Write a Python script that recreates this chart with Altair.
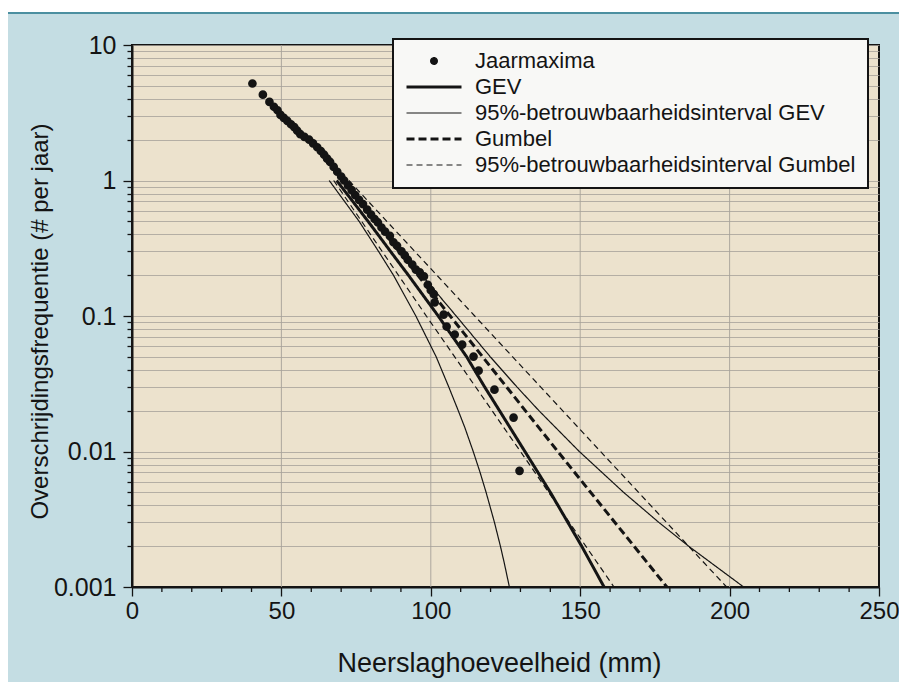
import altair as alt
import pandas as pd

# ---------------- data ----------------
series_order = [
    "Jaarmaxima",
    "GEV",
    "95%-betrouwbaarheidsinterval GEV",
    "Gumbel",
    "95%-betrouwbaarheidsinterval Gumbel",
]

obs_x = [40.3, 43.8, 46.0, 47.5, 48.7, 49.7, 50.8, 52.0, 53.2, 54.3, 55.3, 56.3, 57.7, 59.3,
         60.6, 62.0, 63.2, 64.3, 65.3, 66.3, 67.5, 68.7, 70.0, 71.0, 72.3, 73.5, 74.7, 76.0,
         77.3, 78.7, 80.0, 81.2, 82.3, 83.5, 84.7, 86.3, 87.5, 88.7, 90.2, 91.3, 92.3, 93.8,
         95.0, 96.3, 97.7, 99.0, 100.0, 101.0, 101.3, 104.3, 105.3, 108.0, 110.5, 114.3,
         116.0, 121.3, 127.7, 129.7]
obs_y = [5.2, 4.3, 3.8, 3.5, 3.3, 3.05, 2.9, 2.75, 2.6, 2.48, 2.33, 2.2, 2.1, 2.0,
         1.88, 1.76, 1.65, 1.55, 1.45, 1.37, 1.26, 1.16, 1.07, 1.0, 0.92, 0.85, 0.78, 0.72,
         0.67, 0.61, 0.56, 0.52, 0.49, 0.45, 0.42, 0.39, 0.35, 0.33, 0.30, 0.28, 0.26, 0.24,
         0.22, 0.21, 0.196, 0.17, 0.155, 0.145, 0.126, 0.1025, 0.0836, 0.073, 0.0615, 0.0502,
         0.0395, 0.0286, 0.0178, 0.0072]

gev_y = [1.0, 0.5, 0.3, 0.2, 0.1, 0.05, 0.03, 0.02, 0.01, 0.005, 0.002, 0.001]
gev_x = [68.5, 79, 86.5, 92.5, 102.5, 112, 118, 123, 131.5, 140, 150.5, 158]

gev_lo_y = [1.0, 0.5, 0.3, 0.2, 0.1, 0.05, 0.03, 0.02, 0.015, 0.01, 0.007, 0.005, 0.003,
            0.002, 0.0015, 0.001]
gev_lo_x = [66, 76, 82.5, 87.5, 95, 101.8, 106, 109.2, 111.4, 114.2, 116.5, 118.5, 121.3,
            123.3, 124.6, 126.3]

gev_hi_y = [1.0, 0.5, 0.3, 0.2, 0.1, 0.05, 0.03, 0.02, 0.01, 0.005, 0.003, 0.002, 0.001]
gev_hi_x = [71.5, 82.5, 90.5, 97, 108.5, 119.9, 128.8, 136.2, 149.7, 164.5, 176.3, 186.3, 204.7]

gum_y = [1.0, 0.1, 0.01, 0.001]
gum_x = [70.5, 106.5, 142.5, 179]
gum_lo_x = [67.5, 98.5, 130, 161.3]
gum_hi_x = [72.6, 114.7, 156.8, 199]

x_major = [0, 50, 100, 150, 200, 250]
x_minor = [v for v in range(0, 251, 10) if v % 50 != 0]
x_grid = [50, 100, 150, 200]
y_ticks = [round(k * 10.0 ** e, 6) for e in range(-3, 1) for k in range(1, 10)] + [10]

# ---------------- tables ----------------
def line_rows(name, part, xs, ys):
    return [{"series": name, "part": part, "i": i, "x": x, "y": y}
            for i, (x, y) in enumerate(zip(xs, ys))]

rows = []
rows += line_rows("GEV", "c", gev_x, gev_y)
rows += line_rows("95%-betrouwbaarheidsinterval GEV", "lo", gev_lo_x, gev_lo_y)
rows += line_rows("95%-betrouwbaarheidsinterval GEV", "hi", gev_hi_x, gev_hi_y)
rows += line_rows("Gumbel", "c", gum_x, gum_y)
rows += line_rows("95%-betrouwbaarheidsinterval Gumbel", "lo", gum_lo_x, gum_y)
rows += line_rows("95%-betrouwbaarheidsinterval Gumbel", "hi", gum_hi_x, gum_y)
lines_df = pd.DataFrame(rows)

obs_df = pd.DataFrame({"x": obs_x, "y": obs_y, "series": ["Jaarmaxima"] * len(obs_x)})
grid_df = pd.DataFrame({"x": x_grid})
minor_df = pd.DataFrame({"x": x_minor})

INK = "#141414"
PLOT_W = 747
PLOT_H = 542
PAD_L, PAD_T, PAD_R, PAD_B = 124, 37, 20, 95

x_axis = alt.Axis(
    title="Neerslaghoeveelheid (mm)",
    values=x_major,
    grid=False,
    labelOverlap=False,
    labelFlush=False,
    tickSize=9,
    labelPadding=3,
    labelFontSize=24,
    titleFontSize=27,
    titleFontWeight="normal",
    titleX=367,
    titleY=76,
    titleBaseline="middle",
)
y_axis = alt.Axis(
    title="Overschrijdingsfrequentie (# per jaar)",
    values=y_ticks,
    labelOverlap=False,
    labelExpr="indexof([0.001, 0.01, 0.1, 1, 10], datum.value) >= 0 ? '' + datum.value : ''",
    tickSize={"condition": {"test": "indexof([0.001, 0.01, 0.1, 1, 10], datum.value) >= 0", "value": 9},
              "value": 5},
    labelPadding=7,
    labelFontSize=25,
    titleFontSize=24,
    titleFontWeight="normal",
    titleX=-92,
    titleY=276,
    titleBaseline="middle",
)

x_scale = alt.Scale(domain=[0, 250], nice=False, zero=False)
y_scale = alt.Scale(type="log", domain=[0.001, 10], nice=False)

leg = alt.Legend(title=None)

grid = alt.Chart(grid_df).mark_rule(color="#a6a199", strokeWidth=0.9).encode(
    x=alt.X("x:Q", scale=x_scale, axis=x_axis),
)
minor = alt.Chart(minor_df).mark_rule(color=INK, strokeWidth=1.3).encode(
    x=alt.X("x:Q", scale=x_scale, axis=x_axis),
    y=alt.value(PLOT_H), y2=alt.value(PLOT_H + 5),
)

lines = alt.Chart(lines_df).mark_line(color=INK).encode(
    x=alt.X("x:Q", scale=x_scale, axis=x_axis),
    y=alt.Y("y:Q", scale=y_scale, axis=y_axis),
    detail="part:N",
    order="i:Q",
    strokeDash=alt.StrokeDash("series:N", legend=leg, scale=alt.Scale(
        type="ordinal", domain=series_order, range=[[1, 0], [1, 0], [1, 0], [8, 4], [6, 4]])),
    strokeWidth=alt.StrokeWidth("series:N", legend=leg, scale=alt.Scale(
        type="ordinal", domain=series_order, range=[1.2, 3, 1.2, 3, 1.2])),
)

points = alt.Chart(obs_df).mark_point(filled=True, fill=INK, stroke=INK, opacity=1).encode(
    x=alt.X("x:Q"),
    y=alt.Y("y:Q"),
    shape=alt.Shape("series:N", legend=leg, scale=alt.Scale(
        domain=series_order, range=["circle", "stroke", "stroke", "stroke", "stroke"])),
    size=alt.Size("series:N", legend=leg, scale=alt.Scale(
        type="ordinal", domain=series_order, range=[45, 3025, 3025, 3025, 3025])),
)

one = pd.DataFrame({"a": [0]})
top_white = alt.Chart(one).mark_rect(color="white").encode(
    x=alt.value(-PAD_L), x2=alt.value(PLOT_W + PAD_R), y=alt.value(-PAD_T), y2=alt.value(-32))
top_line = alt.Chart(one).mark_rule(color="#4b8fa0", strokeWidth=2).encode(
    x=alt.value(-PAD_L), x2=alt.value(PLOT_W + PAD_R), y=alt.value(-32))

chart = alt.layer(top_white, top_line, grid, minor, lines, points).properties(
    width=PLOT_W,
    height=PLOT_H,
    padding={"left": PAD_L, "top": PAD_T, "right": PAD_R, "bottom": PAD_B},
    autosize=alt.AutoSizeParams(type="none"),
    background="#c4dde3",
).configure(
    font="Liberation Sans",
).configure_view(
    fill="#ece2cd", stroke=INK, strokeWidth=2,
).configure_axis(
    domainColor=INK, domainWidth=2, tickColor=INK, tickWidth=1.3,
    labelColor=INK, titleColor=INK, gridColor="#a6a199", gridWidth=0.8,
    labelFont="Liberation Sans", titleFont="Liberation Sans",
).configure_legend(
    orient="none", legendX=261, legendY=-6,
    fillColor="#f8f8f6", strokeColor=INK, strokeWidth=2, padding=12, cornerRadius=0,
    labelFont="Liberation Sans", labelFontSize=22, labelColor=INK, labelLimit=600,
    clipHeight=20, rowPadding=4, labelOffset=12,
    symbolFillColor=INK,
)

chart.save("out.html", embed_options={"renderer": "svg", "actions": False})
